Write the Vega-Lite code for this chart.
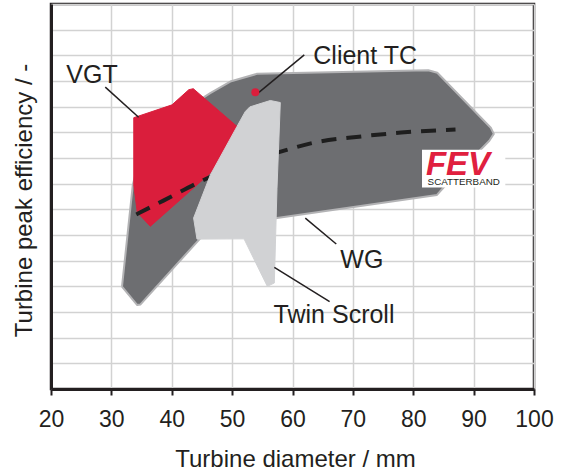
{
  "$schema": "https://vega.github.io/schema/vega-lite/v6.json",
  "width": 483,
  "height": 385,
  "autosize": {"type": "none"},
  "padding": {"left": 51, "top": 4, "right": 28, "bottom": 82},
  "background": "white",
  "config": {
    "view": {"stroke": "#231f20", "strokeWidth": 2.5},
    "font": "Liberation Sans",
    "axis": {
      "gridColor": "#d2d2d2",
      "gridWidth": 1.5,
      "domainColor": "#231f20",
      "domainWidth": 3,
      "tickColor": "#231f20",
      "labelColor": "#231f20",
      "titleColor": "#231f20",
      "labelFont": "Liberation Sans",
      "titleFont": "Liberation Sans",
      "titleFontWeight": "normal"
    }
  },
  "datasets": {
    "wg": [
      {"i": 1, "x": 31.76, "y": 3.99},
      {"i": 2, "x": 34.29, "y": 3.27},
      {"i": 3, "x": 34.79, "y": 3.29},
      {"i": 4, "x": 44.73, "y": 5.87},
      {"i": 5, "x": 57.43, "y": 6.66},
      {"i": 6, "x": 83.93, "y": 7.56},
      {"i": 7, "x": 84.98, "y": 7.84},
      {"i": 8, "x": 92.6, "y": 9.67},
      {"i": 9, "x": 93.34, "y": 9.94},
      {"i": 10, "x": 92.84, "y": 10.18},
      {"i": 11, "x": 83.98, "y": 12.32},
      {"i": 12, "x": 82.49, "y": 12.42},
      {"i": 13, "x": 54.12, "y": 12.28},
      {"i": 14, "x": 49.7, "y": 11.98},
      {"i": 15, "x": 46.38, "y": 11.53},
      {"i": 16, "x": 35.62, "y": 9.9},
      {"i": 17, "x": 33.55, "y": 7.95},
      {"i": 18, "x": 31.76, "y": 3.99}
    ],
    "vgt": [
      {"i": 1, "x": 33.71, "y": 10.57},
      {"i": 2, "x": 40.04, "y": 11.07},
      {"i": 3, "x": 42.82, "y": 11.66},
      {"i": 4, "x": 43.57, "y": 11.7},
      {"i": 5, "x": 50.81, "y": 10.23},
      {"i": 6, "x": 47.38, "y": 8.62},
      {"i": 7, "x": 36.45, "y": 6.34},
      {"i": 8, "x": 34.29, "y": 6.88},
      {"i": 9, "x": 33.71, "y": 7.95},
      {"i": 10, "x": 33.71, "y": 10.57}
    ],
    "ts": [
      {"i": 1, "x": 52.18, "y": 10.81},
      {"i": 2, "x": 50.81, "y": 10.23},
      {"i": 3, "x": 46.39, "y": 8.34},
      {"i": 4, "x": 43.62, "y": 6.66},
      {"i": 5, "x": 44.18, "y": 5.84},
      {"i": 6, "x": 51.97, "y": 5.85},
      {"i": 7, "x": 55.83, "y": 4.0},
      {"i": 8, "x": 56.99, "y": 4.13},
      {"i": 9, "x": 57.43, "y": 7.8},
      {"i": 10, "x": 57.98, "y": 11.16},
      {"i": 11, "x": 56.32, "y": 11.24},
      {"i": 12, "x": 52.92, "y": 10.99},
      {"i": 13, "x": 52.18, "y": 10.81}
    ],
    "trend": [
      {"i": 1, "x": 34.13, "y": 6.8},
      {"i": 2, "x": 38.62, "y": 7.34},
      {"i": 3, "x": 45.72, "y": 8.19},
      {"i": 4, "x": 57.91, "y": 9.24},
      {"i": 5, "x": 64.0, "y": 9.62},
      {"i": 6, "x": 71.0, "y": 9.83},
      {"i": 7, "x": 78.0, "y": 9.99},
      {"i": 8, "x": 87.0, "y": 10.11}
    ],
    "leaders": [
      {"x": 54.34, "y": 11.54, "x2": 61.95, "y2": 13.02},
      {"x": 28.99, "y": 11.76, "x2": 34.51, "y2": 10.59},
      {"x": 62.12, "y": 6.66, "x2": 67.25, "y2": 5.65},
      {"x": 56.99, "y": 4.74, "x2": 66.15, "y2": 3.4}
    ],
    "labels": [
      {"label": "Client TC", "x": 63.44, "y": 12.66},
      {"label": "VGT", "x": 22.53, "y": 11.92},
      {"label": "WG", "x": 67.92, "y": 4.71},
      {"label": "Twin Scroll", "x": 56.87, "y": 2.56}
    ],
    "client": [{"x": 53.84, "y": 11.56}],
    "logobox": [{"x": 81.45, "x2": 95.25, "y": 9.32, "y2": 7.85}],
    "logo": [{"label": "FEV", "x": 82.1, "y": 8.32}],
    "logosub": [{"label": "SCATTERBAND", "x": 82.38, "y": 7.95}]
  },
  "encoding": {
    "x": {
      "field": "x",
      "type": "quantitative",
      "scale": {"domain": [20, 100], "nice": false, "zero": false},
      "axis": {
        "values": [20, 30, 40, 50, 60, 70, 80, 90, 100],
        "title": "Turbine diameter / mm",
        "titleFontSize": 24,
        "titleBaseline": "alphabetic",
        "titleX": 244,
        "titleY": 77,
        "titleAnchor": "middle",
        "titleAlign": "center",
        "labelFontSize": 23,
        "labelBaseline": "alphabetic",
        "labelPadding": 31.5,
        "tickSize": 6,
        "tickWidth": 2,
        "labelFlush": false,
        "labelOverlap": false,
        "grid": true
      }
    },
    "y": {
      "field": "y",
      "type": "quantitative",
      "scale": {"domain": [0, 15], "nice": false, "zero": false},
      "axis": {
        "values": [0, 1, 2, 3, 4, 5, 6, 7, 8, 9, 10, 11, 12, 13, 14, 15],
        "labels": false,
        "ticks": false,
        "grid": true,
        "title": "Turbine peak efficiency / -",
        "titleFontSize": 24,
        "titleAngle": -90,
        "titleBaseline": "alphabetic",
        "titleAlign": "center",
        "titleAnchor": "middle",
        "titleX": -19.5,
        "titleY": 196
      }
    }
  },
  "layer": [
    {
      "data": {"name": "wg"},
      "mark": {"type": "line", "fill": "#6d6e71", "stroke": "#b3b3b5", "strokeWidth": 2, "strokeJoin": "round"},
      "encoding": {"order": {"field": "i", "type": "quantitative"}}
    },
    {
      "data": {"name": "vgt"},
      "mark": {"type": "line", "fill": "#da1e3c", "stroke": "#da1e3c", "strokeWidth": 1, "strokeJoin": "round"},
      "encoding": {"order": {"field": "i", "type": "quantitative"}}
    },
    {
      "data": {"name": "trend"},
      "mark": {"type": "line", "color": "#1e1e1e", "strokeWidth": 4, "strokeDash": [15, 10], "interpolate": "monotone"},
      "encoding": {"order": {"field": "i", "type": "quantitative"}}
    },
    {
      "data": {"name": "ts"},
      "mark": {"type": "line", "fill": "#d1d2d4", "stroke": "#d1d2d4", "strokeWidth": 1, "strokeJoin": "round"},
      "encoding": {"order": {"field": "i", "type": "quantitative"}}
    },
    {
      "data": {"name": "leaders"},
      "mark": {"type": "rule", "color": "#231f20", "strokeWidth": 1.5},
      "encoding": {
        "x2": {"field": "x2"},
        "y2": {"field": "y2"}
      }
    },
    {
      "data": {"name": "client"},
      "mark": {"type": "point", "filled": true, "color": "#da1e3c", "size": 64, "opacity": 1},
      "encoding": {}
    },
    {
      "data": {"name": "labels"},
      "mark": {"type": "text", "fontSize": 25, "align": "left", "baseline": "alphabetic", "color": "#231f20", "font": "Liberation Sans"},
      "encoding": {"text": {"field": "label"}}
    },
    {
      "data": {"name": "logobox"},
      "mark": {"type": "rect", "color": "white"},
      "encoding": {
        "x2": {"field": "x2"},
        "y2": {"field": "y2"}
      }
    },
    {
      "data": {"name": "logo"},
      "mark": {"type": "text", "fontSize": 33, "fontWeight": "bold", "fontStyle": "italic", "align": "left", "baseline": "alphabetic", "color": "#e0203f", "font": "Liberation Sans"},
      "encoding": {"text": {"field": "label"}}
    },
    {
      "data": {"name": "logosub"},
      "mark": {"type": "text", "fontSize": 9.8, "align": "left", "baseline": "alphabetic", "color": "#231f20", "font": "Liberation Sans"},
      "encoding": {"text": {"field": "label"}}
    }
  ]
}
